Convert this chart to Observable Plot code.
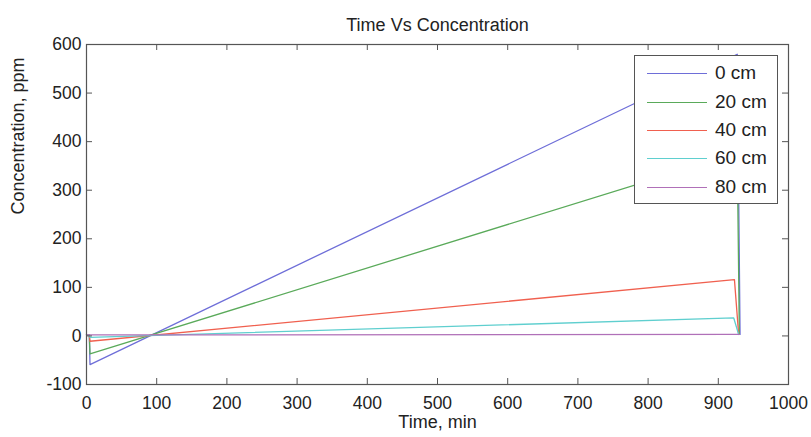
<!DOCTYPE html>
<html>
<head>
<meta charset="utf-8">
<script src="https://cdn.jsdelivr.net/npm/d3@7"></script>
<script src="https://cdn.jsdelivr.net/npm/@observablehq/plot@0.6"></script>
<style>
  html, body { margin: 0; padding: 0; background: #fff; }
  #wrap { position: relative; width: 811px; height: 437px; font-family: "Liberation Sans", Arial, sans-serif; }
  #legend { position: absolute; left: 634px; top: 55px; width: 144px; height: 149px; border: 1px solid #555; background: #fff; box-sizing: border-box; }
  .row { position: absolute; left: 0; height: 20px; width: 100%; }
  .row .ln { position: absolute; left: 12px; width: 60px; top: 9px; height: 0; border-top: 1.5px solid; }
  .row .tx { position: absolute; left: 80px; top: -2px; font-size: 19px; color: #222; line-height: 22px; white-space: nowrap; }
</style>
</head>
<body>
<div id="wrap"><div id="legend"></div></div>
<script>
const title = "Time Vs Concentration";
const xLabel = "Time, min";
const yLabel = "Concentration, ppm";
const xTicks = [0, 100, 200, 300, 400, 500, 600, 700, 800, 900, 1000];
const yTicks = [-100, 0, 100, 200, 300, 400, 500, 600];
const seriesNames = ["0 cm", "20 cm", "40 cm", "60 cm", "80 cm"];
const seriesColors = ["#6e6ed8", "#5aaa5a", "#f0604f", "#5fcfcf", "#b070b8"];

const time0 = [0, 4, 5, 927, 931];
const conc0 = [2, 2, -59, 580, 3];
const time20 = [0, 4, 5, 927, 930];
const conc20 = [2, 2, -37, 376, 3];
const time40 = [0, 4, 5, 923, 929];
const conc40 = [2, 2, -11, 116, 3];
const time60 = [0, 4, 5, 922, 929];
const conc60 = [2, 2, -3, 37, 3];
const time80 = [0, 930];
const conc80 = [2, 3];

const times = [time0, time20, time40, time60, time80];
const concs = [conc0, conc20, conc40, conc60, conc80];
const data = [];
seriesNames.forEach((s, i) => {
  times[i].forEach((t, j) => data.push({series: s, t, v: concs[i][j]}));
});

const plot = Plot.plot({
  width: 811,
  height: 437,
  marginLeft: 86,
  marginRight: 23,
  marginTop: 44,
  marginBottom: 53,
  style: {fontFamily: "'Liberation Sans', Arial, sans-serif", fontSize: "17px", color: "#222", background: "#fff", overflow: "visible"},
  x: {domain: [0, 1000]},
  y: {domain: [-100, 600]},
  color: {domain: seriesNames, range: seriesColors},
  marks: [
    Plot.line(data, {x: "t", y: "v", z: "series", stroke: "series", strokeWidth: 1.3}),
    Plot.tickX(xTicks, {x: d => d, insetTop: 334, stroke: "#555"}),
    Plot.tickX(xTicks, {x: d => d, insetBottom: 334, stroke: "#555"}),
    Plot.tickY(yTicks, {y: d => d, insetRight: 696, stroke: "#555"}),
    Plot.tickY(yTicks, {y: d => d, insetLeft: 696, stroke: "#555"}),
    Plot.frame({stroke: "#555", strokeWidth: 1.2}),
    Plot.axisX(xTicks, {tickSize: 0, tickPadding: 12, label: null, fontSize: 17.5, tickFormat: d => String(d)}),
    Plot.axisY(yTicks, {tickSize: 0, tickPadding: 5, label: null, fontSize: 17.5, tickFormat: d => String(d)}),
    Plot.text([title], {frameAnchor: "top", dy: -26, fontSize: 18}),
    Plot.text([xLabel], {frameAnchor: "bottom", dy: 43, fontSize: 18}),
    Plot.text([yLabel], {frameAnchor: "left", dx: -68, rotate: -90, fontSize: 18})
  ]
});
document.getElementById("wrap").prepend(plot);

const legend = document.getElementById("legend");
const rowTops = [18, 47, 75, 103, 132];
seriesNames.forEach((s, i) => {
  const row = document.createElement("div");
  row.className = "row";
  row.style.top = (rowTops[i] - 10) + "px";
  row.innerHTML = `<div class="ln" style="border-color:${seriesColors[i]}"></div><div class="tx">${s}</div>`;
  legend.appendChild(row);
});
</script>
</body>
</html>
